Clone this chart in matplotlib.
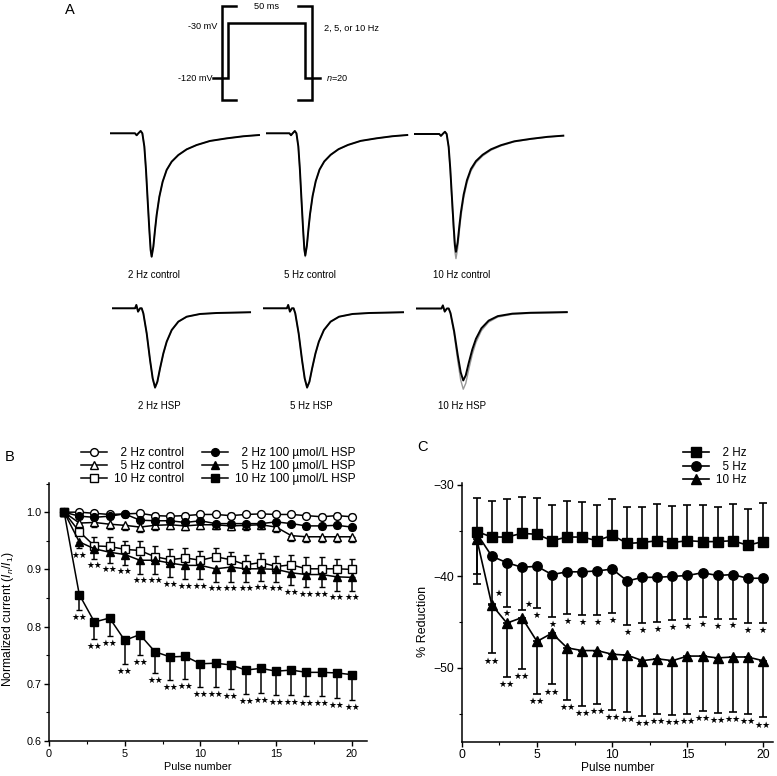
import numpy as np
import matplotlib
matplotlib.use('Agg')
import matplotlib.pyplot as plt
from matplotlib.ticker import MultipleLocator, FormatStrFormatter

plt.rcParams['font.family'] = ['Liberation Sans', 'DejaVu Sans']
plt.rcParams['mathtext.fontset'] = 'custom'
plt.rcParams['mathtext.rm'] = 'Liberation Sans'
plt.rcParams['mathtext.it'] = 'Liberation Sans:italic'

# ---------------- data ----------------
pulse = list(range(1, 21))

# Panel B: normalized current
b_ctrl2 = [1.0, 1.0, 0.998, 0.996, 0.997, 0.998, 0.994, 0.993, 0.994, 0.996,
           0.996, 0.994, 0.996, 0.997, 0.996, 0.996, 0.994, 0.992, 0.994, 0.992]
b_ctrl2_err = [0, 0.004, 0.004, 0.004, 0.004, 0.004, 0.004, 0.004, 0.004, 0.004,
               0.004, 0.004, 0.004, 0.004, 0.004, 0.004, 0.004, 0.004, 0.004, 0.004]
b_ctrl5 = [1.0, 0.981, 0.982, 0.979, 0.977, 0.974, 0.977, 0.978, 0.976, 0.978,
           0.978, 0.976, 0.977, 0.978, 0.974, 0.959, 0.957, 0.957, 0.957, 0.957]
b_ctrl5_err = [0, 0.008, 0.008, 0.008, 0.008, 0.008, 0.008, 0.008, 0.008, 0.008,
               0.008, 0.008, 0.008, 0.008, 0.008, 0.010, 0.010, 0.010, 0.010, 0.010]
b_ctrl10 = [1.0, 0.966, 0.941, 0.940, 0.935, 0.933, 0.922, 0.917, 0.920, 0.916,
            0.922, 0.917, 0.908, 0.912, 0.905, 0.908, 0.901, 0.901, 0.901, 0.900]
b_ctrl10_err = [0, 0.010, 0.015, 0.016, 0.015, 0.017, 0.018, 0.019, 0.017, 0.017,
                0.015, 0.014, 0.017, 0.016, 0.018, 0.018, 0.020, 0.020, 0.017, 0.018]
b_hsp2 = [1.0, 0.993, 0.991, 0.993, 0.997, 0.986, 0.985, 0.985, 0.982, 0.985,
          0.980, 0.980, 0.980, 0.980, 0.983, 0.980, 0.976, 0.976, 0.977, 0.974]
b_hsp2_err = [0, 0.005, 0.005, 0.005, 0.005, 0.005, 0.005, 0.005, 0.005, 0.005,
              0.005, 0.005, 0.005, 0.005, 0.005, 0.005, 0.005, 0.005, 0.005, 0.005]
b_hsp5 = [1.0, 0.948, 0.936, 0.930, 0.926, 0.916, 0.916, 0.911, 0.907, 0.907,
          0.901, 0.904, 0.901, 0.901, 0.900, 0.894, 0.891, 0.891, 0.887, 0.886]
b_hsp5_err = [0, 0.011, 0.018, 0.018, 0.018, 0.024, 0.024, 0.025, 0.024, 0.024,
              0.023, 0.026, 0.023, 0.021, 0.022, 0.022, 0.022, 0.022, 0.024, 0.023]
b_hsp10 = [1.0, 0.856, 0.808, 0.815, 0.776, 0.786, 0.756, 0.747, 0.748, 0.735,
           0.736, 0.733, 0.724, 0.727, 0.722, 0.724, 0.720, 0.720, 0.719, 0.716]
b_hsp10_err = [0, 0.027, 0.030, 0.032, 0.042, 0.035, 0.038, 0.040, 0.039, 0.041,
               0.042, 0.042, 0.041, 0.043, 0.041, 0.043, 0.042, 0.041, 0.043, 0.044]
b_labels = ['  2 Hz control', '  5 Hz control', '10 Hz control',
            '  2 Hz 100 µmol/L HSP', '  5 Hz 100 µmol/L HSP', '10 Hz 100 µmol/L HSP']

# Panel C: % reduction
c_2hz = [-35.1, -35.7, -35.7, -35.3, -35.4, -36.1, -35.7, -35.7, -36.1, -35.5,
         -36.4, -36.3, -36.1, -36.3, -36.1, -36.2, -36.2, -36.1, -36.6, -36.2]
c_2hz_err = [3.7, 3.9, 4.1, 4.0, 4.0, 3.9, 3.9, 3.8, 3.9, 3.9,
             4.0, 3.9, 4.0, 4.0, 3.9, 4.0, 3.8, 4.0, 4.0, 4.2]
c_5hz = [-35.3, -37.8, -38.5, -39.0, -38.9, -39.8, -39.5, -39.5, -39.4, -39.2,
         -40.5, -40.1, -40.1, -40.0, -39.9, -39.6, -39.9, -39.8, -40.2, -40.2]
c_5hz_err = [4.4, 5.2, 4.8, 4.7, 4.6, 4.6, 4.6, 4.7, 4.8, 4.8,
             4.8, 5.0, 4.9, 4.8, 4.8, 4.8, 4.8, 4.8, 4.9, 4.9]
c_10hz = [-35.9, -43.1, -45.1, -44.5, -47.1, -46.2, -47.8, -48.1, -48.1, -48.5,
          -48.6, -49.2, -49.0, -49.2, -48.7, -48.7, -48.9, -48.8, -48.8, -49.2]
c_10hz_err = [4.9, 5.3, 5.9, 5.6, 5.7, 5.6, 5.7, 6.0, 5.8, 6.1,
              6.2, 6.0, 6.0, 5.9, 6.3, 6.0, 6.0, 6.0, 6.2, 6.2]
c_labels = ['  2 Hz', '  5 Hz', '10 Hz']

# Significance marks (pulse indices)
b_sig_hsp5 = list(range(2, 21))
b_sig_hsp10 = list(range(2, 21))
c_sig_5hz = list(range(2, 21))
c_sig_10hz = list(range(2, 21))

# Panel A: voltage protocol (ms, mV)
proto_t = [-10, 0, 0, 50, 50, 60]
proto_v = [-120, -120, -30, -30, -120, -120]

# Panel A: representative current traces (ms, normalized current)
ctrl_t = [0, 5.0, 5.33, 5.67, 6.13, 6.47, 6.87, 7.2, 7.53, 7.87, 8.13, 8.33, 8.67,
          9.0, 9.33, 9.87, 10.53, 11.33, 12.33, 13.67, 15.33, 17.33, 20.0, 23.33, 26.67, 29.8]
ctrl_i = [0, 0, -0.016, 0, 0.019, 0, -0.108, -0.297, -0.541, -0.784, -0.946, -1.0, -0.919,
          -0.784, -0.662, -0.514, -0.392, -0.297, -0.230, -0.176, -0.130, -0.095, -0.062,
          -0.041, -0.024, -0.014]
hsp_t = [0, 4.67, 4.93, 5.27, 5.67, 6.0, 6.33, 7.0, 7.67, 8.2, 8.67, 9.13, 9.67, 10.33,
         11.0, 12.0, 13.33, 15.0, 17.67, 21.0, 24.33, 27.67]
hsp_i = [0, 0, 0.027, -0.027, 0, 0, -0.041, -0.203, -0.419, -0.568, -0.641, -0.595,
         -0.486, -0.365, -0.270, -0.176, -0.108, -0.068, -0.046, -0.038, -0.035, -0.032]
trace_names = ['2 Hz control', '5 Hz control', '10 Hz control', '2 Hz HSP', '5 Hz HSP', '10 Hz HSP']
trace_amp_black = [1.0, 0.99, 0.955, 1.0, 1.0, 0.91]
trace_amp_gray = [1.0, 1.0, 1.01, 1.01, 1.01, 1.02]

# ---------------- figure ----------------
W, H = 777, 776
fig = plt.figure(figsize=(W / 100, H / 100), dpi=100)


def px_axes(x0, y0, x1, y1):
    return fig.add_axes([x0 / W, 1 - y1 / H, (x1 - x0) / W, (y1 - y0) / H])


def ftext(x, y, s, **kw):
    fig.text(x / W, 1 - y / H, s, **kw)


# ---- Panel A: protocol ----
ms_px = 1.534
mv_px = 0.611
axp = px_axes(228.3 - 15 * ms_px, 23.3 - 35 * mv_px, 228.3 + 65 * ms_px, 78.3 + 45 * mv_px)
axp.set_xlim(-15, 65)
axp.set_ylim(-165, 5)
axp.axis('off')
axp.plot(proto_t, proto_v, color='k', lw=1.8, solid_joinstyle='miter')
for bx, dx in [(-4.3, 9.3), (54.8, -9.3)]:
    axp.plot([bx + dx, bx, bx, bx + dx], [-1.7, -1.7, -155.5, -155.5], color='k', lw=1.8,
             solid_joinstyle='miter')
fs_p = 6.6
axp.text(25, -2.8, '50 ms', ha='center', va='center', fontsize=fs_p)
axp.text(-7.4, -35.5, '-30 mV', ha='right', va='center', fontsize=fs_p)
axp.text(-10.3, -120, '-120 mV', ha='right', va='center', fontsize=fs_p)
axp.text(62.2, -38.5, '2, 5, or 10 Hz', ha='left', va='center', fontsize=fs_p)
axp.text(63.7, -120, '$\\it{n}$=20', ha='left', va='center', fontsize=fs_p)

ftext(65, 10, 'A', fontsize=10.5, ha='left', va='center')

# ---- Panel A: traces ----
y_px = 123.4
starts = [110, 265.7, 414.3, 111.7, 263.3, 416]
xscale = [5.0, 4.75, 5.0, 5.0, 5.05, 5.45]
bases = [133.3, 133.3, 134.0, 308.3, 308.3, 308.5]
lab_pos = [(128, 275), (284, 275), (433, 275), (138, 406), (290.5, 406), (438, 406)]
for k in range(6):
    x0 = starts[k]
    ax = px_axes(x0, bases[k] - 0.1 * y_px, x0 + 32 * xscale[k], bases[k] + 1.1 * y_px)
    ax.set_xlim(0, 32)
    ax.set_ylim(-1.1, 0.1)
    ax.axis('off')
    t = np.array(ctrl_t if k < 3 else hsp_t)
    cur = np.array(ctrl_i if k < 3 else hsp_i)
    ax.plot(t, cur * trace_amp_gray[k], color='0.6', lw=1.0)
    ax.plot(t, cur * trace_amp_black[k], color='k', lw=1.4)
    ftext(lab_pos[k][0], lab_pos[k][1], trace_names[k], fontsize=7.0, ha='left', va='center')

# ---- Panel B ----
axB = px_axes(49, 483, 367, 741)
axB.set_xlim(0, 21)
axB.set_ylim(0.6, 1.051)
for s in ['top', 'right']:
    axB.spines[s].set_visible(False)
axB.xaxis.set_major_locator(MultipleLocator(5))
axB.xaxis.set_minor_locator(MultipleLocator(2.5))
axB.yaxis.set_major_locator(MultipleLocator(0.1))
axB.yaxis.set_minor_locator(MultipleLocator(0.05))
axB.yaxis.set_major_formatter(FormatStrFormatter('%.1f'))
axB.tick_params(which='major', length=3.5, width=1.0, labelsize=7.8, pad=2)
axB.tick_params(which='minor', length=2, width=0.8)
for s in ['left', 'bottom']:
    axB.spines[s].set_linewidth(1.1)

z = np.zeros(20)
b_series = [
    (b_ctrl2, [z, b_ctrl2_err], 'o', 'white'),
    (b_ctrl5, [b_ctrl5_err, z], '^', 'white'),
    (b_ctrl10, [z, b_ctrl10_err], 's', 'white'),
    (b_hsp2, [b_hsp2_err, z], 'o', 'black'),
    (b_hsp5, [b_hsp5_err, z], '^', 'black'),
    (b_hsp10, [b_hsp10_err, z], 's', 'black'),
]
handles = []
for (vals, err, mk, fc), lab in zip(b_series, b_labels):
    h = axB.errorbar(pulse, vals, yerr=err, color='k', marker=mk, mfc=fc, mec='k',
                     ms=5.6, mew=1.0, lw=1.1, elinewidth=1.1, capsize=2.2, capthick=1.1,
                     label=lab)
    handles.append(h[0])

fs_star_b = 6.3
for p in b_sig_hsp5:
    i = p - 1
    axB.text(p, b_hsp5[i] - b_hsp5_err[i] - 0.012, '★★', ha='center', va='center',
             fontsize=fs_star_b, family='DejaVu Sans')
for p in b_sig_hsp10:
    i = p - 1
    axB.text(p, b_hsp10[i] - b_hsp10_err[i] - 0.013, '★★', ha='center', va='center',
             fontsize=fs_star_b, family='DejaVu Sans')

axB.set_xlabel('Pulse number', fontsize=7.8)
axB.xaxis.set_label_coords(0.469, -0.083)
axB.set_ylabel('Normalized current ($\\it{I_n}$/$\\it{I_1}$)', fontsize=8.7)
axB.yaxis.set_label_coords(-0.105, 0.47)

legB = axB.legend(handles=handles, labels=b_labels, ncol=2, frameon=False,
                  loc='upper left', bbox_to_anchor=(81.0 / W, 1 - 447.5 / H),
                  bbox_transform=fig.transFigure, fontsize=8.6, handlelength=2.2,
                  handletextpad=0.6, columnspacing=1.45, labelspacing=0.05,
                  borderpad=0, borderaxespad=0)

ftext(5, 457, 'B', fontsize=10.5, ha='left', va='center')

# ---- Panel C ----
axC = px_axes(461.7, 483, 773.3, 741.7)
axC.set_xlim(0, 20.7)
axC.set_ylim(-58.05, -29.8)
for s in ['top', 'right']:
    axC.spines[s].set_visible(False)
axC.xaxis.set_major_locator(MultipleLocator(5))
axC.xaxis.set_minor_locator(MultipleLocator(2.5))
axC.yaxis.set_major_locator(MultipleLocator(10))
axC.yaxis.set_minor_locator(MultipleLocator(5))
axC.tick_params(which='major', length=3.5, width=1.0, labelsize=8.8, pad=2)
axC.tick_params(which='minor', length=2, width=0.8)
for s in ['left', 'bottom']:
    axC.spines[s].set_linewidth(1.1)

c_series = [
    (c_2hz, [z, c_2hz_err], 's'),
    (c_5hz, [c_5hz_err, z], 'o'),
    (c_10hz, [c_10hz_err, z], '^'),
]
hc = []
for (vals, err, mk), lab in zip(c_series, c_labels):
    h = axC.errorbar(pulse, vals, yerr=err, color='k', marker=mk, mfc='k', mec='k',
                     ms=6.8, lw=1.2, elinewidth=1.2, capsize=3.2, capthick=1.2, label=lab)
    hc.append(h[0])

fs_star_c = 6.5
star_dx_5 = {2: 0.42, 4: 0.42}
star_y_5 = {2: -41.9, 4: -43.1}
for p in c_sig_5hz:
    i = p - 1
    y = star_y_5.get(p, c_5hz[i] - c_5hz_err[i] - 0.8)
    axC.text(p + star_dx_5.get(p, 0), y, '★', ha='center', va='center',
             fontsize=fs_star_c, family='DejaVu Sans')
for p in c_sig_10hz:
    i = p - 1
    axC.text(p, c_10hz[i] - c_10hz_err[i] - 0.85, '★★', ha='center', va='center',
             fontsize=fs_star_c, family='DejaVu Sans')

axC.set_xlabel('Pulse number', fontsize=8.6)
axC.xaxis.set_label_coords(0.50, -0.08)
axC.set_ylabel('% Reduction', fontsize=9.0)
axC.yaxis.set_label_coords(-0.105, 0.464)

legC = axC.legend(handles=hc, labels=c_labels, frameon=False, loc='upper left',
                  bbox_to_anchor=(682.5 / W, 1 - 447.0 / H), bbox_transform=fig.transFigure,
                  fontsize=8.4, handlelength=2.3, handletextpad=0.55, labelspacing=0.15,
                  borderpad=0, borderaxespad=0)

ftext(417, 447, 'C', fontsize=10.5, ha='left', va='center')

fig.savefig('out.png', dpi=100)
